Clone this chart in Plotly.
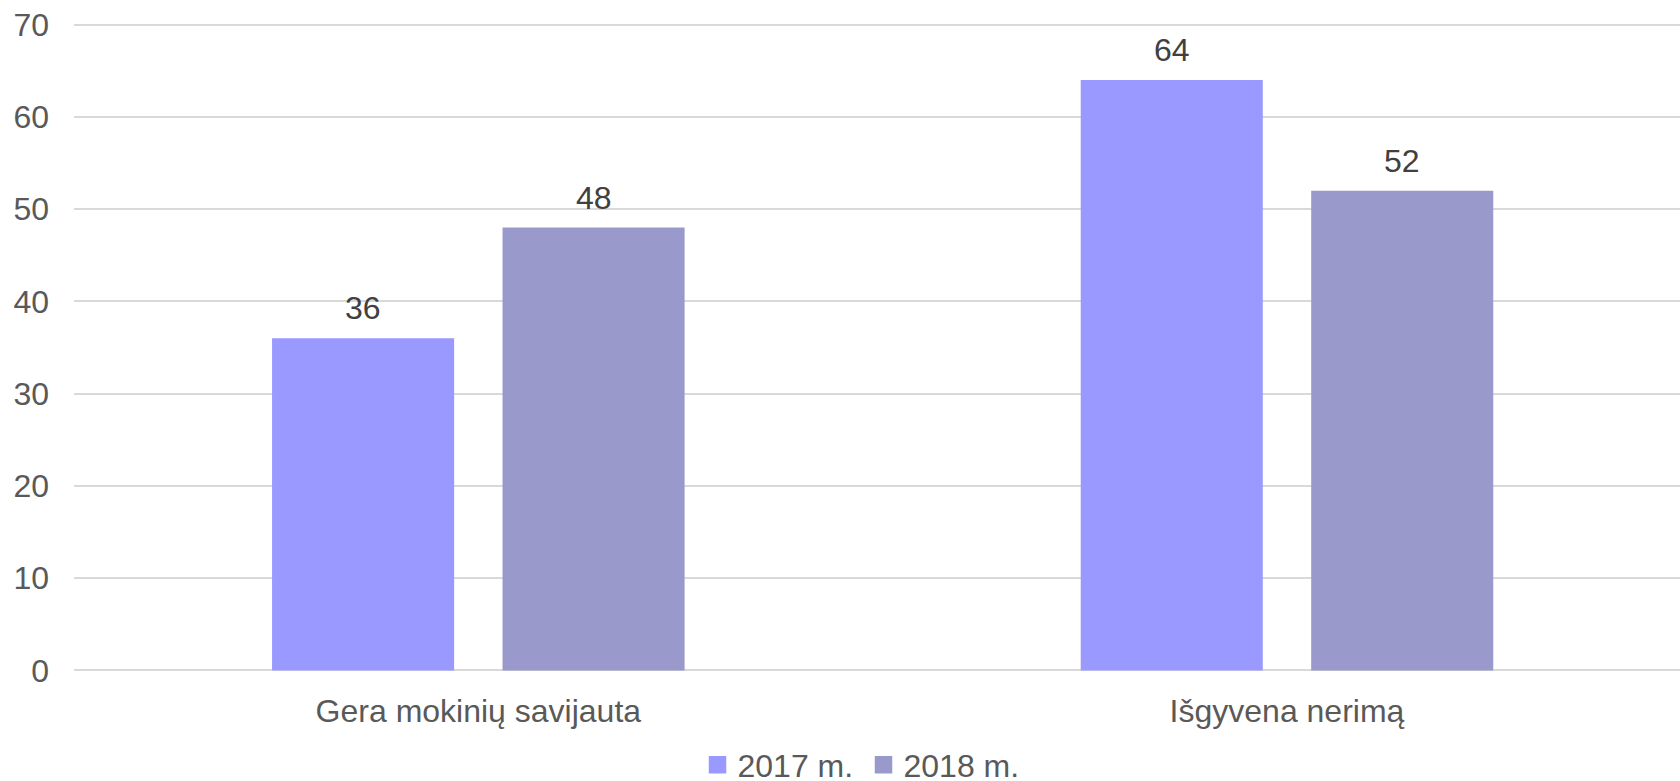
import plotly.graph_objects as go

categories = ["Gera mokinių savijauta", "Išgyvena nerimą"]
series_names = ["2017 m.", "2018 m."]
values_2017 = [36, 64]
values_2018 = [48, 52]
y_ticks = [0, 10, 20, 30, 40, 50, 60, 70]

colors = ["#9999FF", "#9999CC"]
FONT = "Liberation Sans, Arial, sans-serif"
BARGAP = 0.43
BARGROUPGAP = 0.21

# y pixel layout: value 70 at y=25, value 0 at y=670
PAD = 0.5
px_per_unit = (670 - 25) / 70
top_m = 25 - PAD * px_per_unit
bot_m = (781 - 670) - PAD * px_per_unit

fig = go.Figure()
all_values = [values_2017, values_2018]
for name, vals, col in zip(series_names, all_values, colors):
    fig.add_trace(go.Bar(
        name=name, x=categories, y=vals,
        marker=dict(color=col, line=dict(width=0)),
        hoverinfo="skip", showlegend=False,
    ))
# legend entries with square symbols
for name, col in zip(series_names, colors):
    fig.add_trace(go.Scatter(
        name=name, x=[None], y=[None], mode="markers",
        marker=dict(symbol="square", size=16, color=col,
                    line=dict(color=col, width=1.5)),
        showlegend=True, hoverinfo="skip",
    ))

# data labels placed over each bar (positions derived from bar layout settings)
slot = (1 - BARGAP) / len(series_names)
for i, vals in enumerate(all_values):
    offset = (i - (len(series_names) - 1) / 2) * slot
    for j, v in enumerate(vals):
        fig.add_annotation(
            x=j + offset, y=v, xref="x", yref="y",
            text=str(v), showarrow=False, yanchor="bottom", yshift=10,
            font=dict(family=FONT, size=32, color="#404040"),
        )

fig.update_layout(
    width=1680, height=781,
    margin=dict(l=74, r=0, t=top_m, b=bot_m, autoexpand=False),
    paper_bgcolor="white", plot_bgcolor="white",
    barmode="group", bargap=BARGAP, bargroupgap=BARGROUPGAP,
    font=dict(family=FONT, size=32, color="#595959"),
    showlegend=True,
    legend=dict(
        orientation="h", x=0.4916, xanchor="center",
        yref="container", y=0.0205, yanchor="middle",
        entrywidth=121,
        font=dict(family=FONT, size=32, color="#595959"),
        itemclick=False, itemdoubleclick=False,
    ),
)
fig.update_xaxes(
    type="category", range=[-0.5, 1.486], automargin=False,
    showgrid=False, zeroline=False, showline=False, ticks="",
    ticklabelstandoff=14,
    tickfont=dict(family=FONT, size=32, color="#595959"),
)
fig.update_yaxes(
    range=[-PAD, 70 + PAD], tickvals=y_ticks, automargin=False,
    showgrid=True, gridcolor="#D9D9D9", gridwidth=2,
    zeroline=False, showline=False, ticks="",
    ticklabelstandoff=24,
    tickfont=dict(family=FONT, size=32, color="#595959"),
)

fig.write_html("out.html", config={"displayModeBar": False},
               post_script="document.body.style.margin='0';")
